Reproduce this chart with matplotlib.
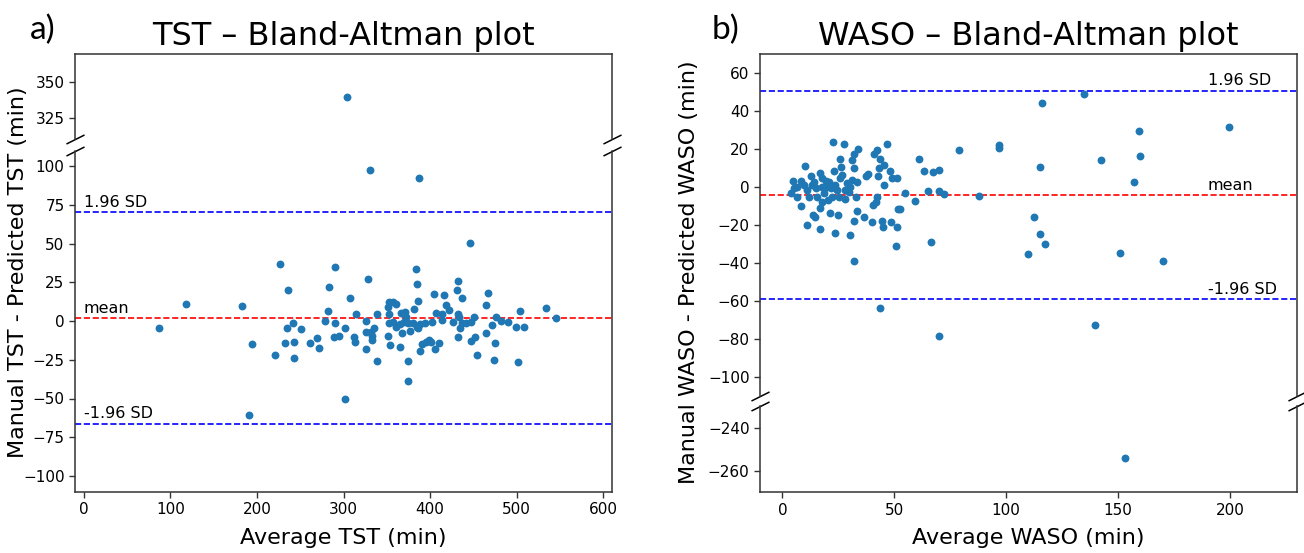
import matplotlib
matplotlib.use("Agg")
import matplotlib.pyplot as plt

# ---------------- data ----------------
tst_avg = [87.0, 118.2, 183.2, 194.0, 190.9, 220.5, 226.3, 235.9, 234.4, 241.7,
           232.9, 242.5, 242.5, 261.7, 269.4, 271.7, 278.3, 282.5, 282.9, 289.8,
           290.6, 289.4, 294.8, 301.4, 302.1, 307.1, 314.1, 312.2, 313.7, 325.6,
           326.0, 326.0, 328.3, 250.6,
           331.0, 386.8, 445.7, 383.4, 385.3, 431.8, 431.1, 436.8, 466.9, 464.6,
           416.1, 404.1, 386.0, 338.7, 351.4, 352.6, 357.2, 361.0, 352.2, 366.8,
           370.6, 371.8, 381.8, 406.4, 414.1, 418.8, 421.8, 431.8, 433.0, 450.3,
           476.5, 504.2, 534.2, 545.8, 353.0, 357.2, 361.0, 364.9, 369.9, 374.5,
           380.3, 384.9, 388.0, 393.7, 402.6, 414.1, 426.5, 436.8, 441.9, 446.9,
           471.5, 482.3, 490.0, 499.6, 508.1, 334.8, 331.4, 332.5, 332.9, 351.4,
           353.3, 365.6, 368.0, 377.2, 386.4, 388.7, 390.7, 394.9, 398.4, 400.7,
           405.3, 410.3, 431.8, 434.9, 446.9, 452.2, 464.6, 475.3, 339.1, 374.1,
           454.2, 474.2, 501.5, 374.5, 304.3]
tst_diff = [-4.5, 11.2, 9.7, -15.1, -60.7, -22.0, 36.5, 20.2, -4.5, -1.5,
            -14.4, -13.6, -24.1, -14.0, -10.8, -17.4, -0.2, 6.6, 21.7, 35.0,
            -1.1, -10.1, -9.5, -4.3, -50.4, 15.0, 4.3, -10.6, -13.4, -18.1,
            -6.9, 0.2, 27.1, -5.2,
            97.5, 92.5, 50.5, 33.5, 23.9, 25.8, 20.0, 14.6, 18.3, 10.5,
            17.0, 17.4, 13.1, 4.3, 8.8, 12.4, 12.0, 10.9, 4.5, 4.9,
            6.0, 2.8, 7.7, 4.9, 4.5, 10.3, 7.1, 4.5, 2.8, 2.8,
            2.8, 6.2, 8.6, 1.9, -1.5, -0.5, -3.7, -2.0, -0.5, -1.5,
            -1.1, -3.7, -2.0, -1.1, -0.5, 0.6, -0.5, -1.5, -1.1, -0.5,
            -2.6, 0.2, -0.5, -4.1, -3.7, -4.3, -6.9, -9.5, -12.3, -9.7,
            -15.5, -17.0, -7.6, -6.7, -4.8, -19.2, -14.9, -13.4, -12.3, -13.4,
            -18.1, -14.4, -10.6, -4.8, -12.7, -10.1, -8.0, -14.4, -25.8, -26.0,
            -22.0, -25.4, -26.3, -39.0, 340.0]

tst_mean, tst_hi, tst_lo = 2.0, 70.3, -66.3

waso_avg = [4.55, 3.95, 8.12, 10.05, 12.58, 8.12, 10.80, 16.75, 16.75, 13.48,
            14.52, 16.75, 17.49, 19.28, 20.02, 21.07, 23.30, 24.79, 22.70, 27.76,
            25.68, 26.27, 23.0, 25.68, 26.72, 28.95, 27.91, 30.44, 31.18, 31.93,
            31.33, 31.93, 33.71, 33.42, 33.12, 33.42, 32.08, 30.44, 32.23, 36.69,
            39.96, 37.43, 38.18, 40.86, 42.34, 43.53, 43.39, 45.47, 48.0, 45.62,
            42.94, 42.34, 41.75, 40.56, 46.81, 44.58, 45.02, 48.74, 51.27, 50.83,
            51.27, 49.04, 51.57, 52.76, 55.0, 59.31, 60.94, 63.47, 64.96, 66.45,
            67.19, 70.02, 70.02, 72.1, 78.8, 87.7, 96.66, 96.95, 43.83, 70.02,
            6.63, 9.61, 11.1, 13.33, 14.82, 15.56, 17.79, 18.54, 21.51, 22.26,
            23.74, 24.49, 25.23, 28.21, 29.7, 6.63, 11.84, 20.47, 17.79, 5.14,
            14.07, 20.77,
            116.1, 134.6, 115.1, 142.2, 159.4, 159.9, 157.2, 199.5, 112.4, 115.0,
            117.5, 109.8, 151.1, 169.9, 139.7, 153.0]
waso_diff = [3.33, -3.16, 3.50, 11.05, 6.13, -9.83, -19.83, -21.93, -10.70, -14.56,
             -15.44, 7.36, 4.73, 3.50, 0.35, -13.69, -23.86, -14.74, 24.03, 22.97,
             15.08, 10.52, 8.77, 4.73, 6.49, 2.1, -6.32, 0.35, 3.85, 10.0,
             14.38, 17.54, 20.0, 2.98, -4.92, -12.28, -17.54, -25.26, -38.59, -15.79,
             -18.07, 5.96, 7.01, 17.36, 19.64, 15.08, 10.0, 11.75, 8.77, 1.23,
             5.96, -4.92, -7.55, -9.30, 22.62, -17.72, -20.70, -18.42, -20.70, -30.70,
             5.08, 4.73, -11.23, -11.41, -2.81, -7.02, 15.08, 8.59, -1.93, -28.77,
             8.24, 8.94, -1.76, -3.51, 19.64, -4.39, 22.27, 20.87, -63.3, -78.06,
             0.35, 1.22, -1.41, 1.22, -0.53, -4.92, 0.0, -3.16, -0.53, -4.92,
             1.22, -1.41, -4.92, -1.41, -2.29, -4.92, -4.92, -6.67, -7.55, -0.53,
             2.98, 2.98,
             44.5, 48.9, 10.7, 14.6, 29.5, 16.5, 2.8, 31.9, -15.4, -24.7,
             -29.6, -35.1, -34.7, -38.6, -72.3, -254.0]

waso_mean, waso_hi, waso_lo = -4.0, 50.8, -58.8

tst_xticks = [0, 100, 200, 300, 400, 500, 600]
waso_xticks = [0, 50, 100, 150, 200]

# ---------------- figure ----------------
W, H = 1304, 553
fig = plt.figure(figsize=(W / 100, H / 100), dpi=100)


def box(l, t, r, b):
    return [l / W, 1 - b / H, (r - l) / W, (b - t) / H]


dot = dict(s=32, color="#1f77b4", zorder=3, linewidths=0)
TICK_FS = 11
LAB_FS = 16
ANN_FS = 11.5
TITLE_FS = 23


def break_marks(ax_top, ax_bot):
    kw = dict(marker=[(-1, -0.5), (1, 0.5)], markersize=13, linestyle="none",
              color="k", mec="k", mew=1.1, clip_on=False)
    ax_top.plot([0, 1], [0, 0], transform=ax_top.transAxes, **kw)
    ax_bot.plot([0, 1], [1, 1], transform=ax_bot.transAxes, **kw)


def style(ax):
    for s in ax.spines.values():
        s.set_color("#333333")
        s.set_linewidth(1.1)
    ax.tick_params(labelsize=TICK_FS, length=4, width=1, color="#333333")


# ---- Panel a: TST ----
a_top = fig.add_axes(box(75, 54, 612, 139))
a_bot = fig.add_axes(box(75, 150.5, 612, 491.5))
for ax in (a_top, a_bot):
    ax.scatter(tst_avg, tst_diff, **dot)
    ax.set_xlim(-10, 610)
    style(ax)
a_bot.axhline(tst_mean, color="red", ls="--", lw=1.2, zorder=2)
a_bot.axhline(tst_hi, color="blue", ls="--", lw=1.2, zorder=2)
a_bot.axhline(tst_lo, color="blue", ls="--", lw=1.2, zorder=2)
a_top.set_ylim(310, 370)
a_top.set_yticks([325, 350])
a_bot.set_ylim(-110, 110)
a_bot.set_yticks([-100, -75, -50, -25, 0, 25, 50, 75, 100])
a_bot.set_xticks(tst_xticks)
a_top.spines["bottom"].set_visible(False)
a_bot.spines["top"].set_visible(False)
a_top.tick_params(bottom=False, labelbottom=False)
break_marks(a_top, a_bot)
a_bot.text(0, tst_hi + 1.5, "1.96 SD", fontsize=ANN_FS, va="bottom", ha="left")
a_bot.text(0, tst_mean + 1.5, "mean", fontsize=ANN_FS, va="bottom", ha="left")
a_bot.text(0, tst_lo + 1.5, "-1.96 SD", fontsize=ANN_FS, va="bottom", ha="left")

fig.text(343.5 / W, 1 - 45 / H, "TST – Bland-Altman plot", fontsize=TITLE_FS,
         ha="center", va="baseline")
fig.text(343.5 / W, 1 - 538 / H, "Average TST (min)", fontsize=LAB_FS,
         ha="center", va="center")
fig.text(18 / W, 1 - 272 / H, "Manual TST - Predicted TST (min)", fontsize=LAB_FS,
         ha="center", va="center", rotation=90)
fig.text(30 / W, 1 - 39 / H, "a)", fontsize=24, family="Lato", ha="left",
         va="baseline")

# ---- Panel b: WASO ----
b_top = fig.add_axes(box(760, 54.3, 1297, 396.3))
b_bot = fig.add_axes(box(760, 406.2, 1297, 492.2))
for ax in (b_top, b_bot):
    ax.scatter(waso_avg, waso_diff, **dot)
    ax.set_xlim(-10, 230)
    style(ax)
b_top.axhline(waso_mean, color="red", ls="--", lw=1.2, zorder=2)
b_top.axhline(waso_hi, color="blue", ls="--", lw=1.2, zorder=2)
b_top.axhline(waso_lo, color="blue", ls="--", lw=1.2, zorder=2)
b_top.set_ylim(-110, 70)
b_top.set_yticks([-100, -80, -60, -40, -20, 0, 20, 40, 60])
b_bot.set_ylim(-270, -230)
b_bot.set_yticks([-260, -240])
b_bot.set_xticks(waso_xticks)
b_top.spines["bottom"].set_visible(False)
b_bot.spines["top"].set_visible(False)
b_top.tick_params(bottom=False, labelbottom=False)
break_marks(b_top, b_bot)
b_top.text(190, waso_hi + 1.2, "1.96 SD", fontsize=ANN_FS, va="bottom", ha="left")
b_top.text(190, waso_mean + 1.2, "mean", fontsize=ANN_FS, va="bottom", ha="left")
b_top.text(190, waso_lo + 1.2, "-1.96 SD", fontsize=ANN_FS, va="bottom", ha="left")

fig.text(1028.5 / W, 1 - 45 / H, "WASO – Bland-Altman plot", fontsize=TITLE_FS,
         ha="center", va="baseline")
fig.text(1028.5 / W, 1 - 538 / H, "Average WASO (min)", fontsize=LAB_FS,
         ha="center", va="center")
fig.text(689 / W, 1 - 272 / H, "Manual WASO - Predicted WASO (min)", fontsize=LAB_FS,
         ha="center", va="center", rotation=90)
fig.text(712 / W, 1 - 39 / H, "b)", fontsize=24, family="Lato", ha="left",
         va="baseline")

fig.savefig("out.png", dpi=100)
